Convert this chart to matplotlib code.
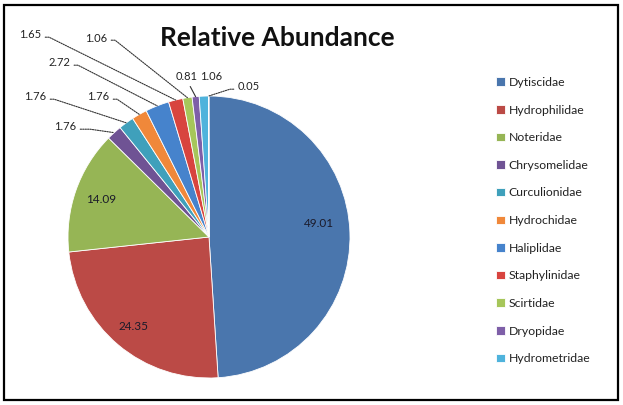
import matplotlib
matplotlib.use("Agg")
import matplotlib.pyplot as plt
from matplotlib.patches import Rectangle
import numpy as np

plt.rcParams['font.family'] = ['Lato', 'DejaVu Sans']

# ---- data ----
families = ["Dytiscidae", "Hydrophilidae", "Noteridae", "Chrysomelidae",
            "Curculionidae", "Hydrochidae", "Haliplidae", "Staphylinidae",
            "Scirtidae", "Dryopidae", "Hydrometridae"]
abundance = [49.01, 24.35, 14.09, 1.76, 1.76, 1.76, 2.72, 1.65, 1.06, 0.81, 1.06, 0.05]
colors = ["#4a76ad", "#bb4a46", "#96b555", "#6f5394", "#3fa0bb", "#f0883a",
          "#4683cc", "#d8443f", "#a6c65a", "#7e5fa8", "#4fb3dc", "#2c4d75"]

W, H = 623, 405
fig = plt.figure(figsize=(W / 100, H / 100), dpi=100)

# pie axes: centre (209, 237) px, radius 141 px
cx, cy, r = 209, 237, 141
ax = fig.add_axes([(cx - r) / W, (H - cy - r) / H, 2 * r / W, 2 * r / H])
wedges, _ = ax.pie(abundance, colors=colors, startangle=90, counterclock=False,
                   wedgeprops=dict(edgecolor="white", linewidth=0.6))
ax.set_xlim(-1, 1)
ax.set_ylim(-1, 1)
ax.set_aspect("equal")
ax.axis("off")

# mid-angles of slices (degrees, matplotlib convention)
vals = np.array(abundance, dtype=float)
frac = vals / vals.sum()
cum = np.concatenate([[0], np.cumsum(frac)])
mids = 90 - 360 * (cum[:-1] + frac / 2)

def edge_point(i, rad=1.0):
    a = np.deg2rad(mids[i])
    return rad * np.cos(a), rad * np.sin(a)

labels = [f"{v:.2f}" for v in abundance]

# inside labels (first three slices)
inner = {0: (0.78, 0.07), 1: (0.83, 0.0), 2: (0.81, 0.0)}
for i, (rad, dy) in inner.items():
    x, y = edge_point(i, rad)
    ax.text(x, y + dy, labels[i], ha="center", va="center",
            fontsize=8.5, color="#1a1a2a")

# outside labels: text position (px from top-left), arm direction, arm length
outside = {
    3: ((65, 127), 0, 14),
    4: ((35, 97), 0, 8),
    5: ((98, 97), 0, 8),
    6: ((59, 63), 0, 8),
    7: ((30, 35), 0, 8),
    8: ((96, 38), 0, 8),
    9: ((187, 77), None, 0),
    10: ((211, 77), None, None),
    11: ((249, 87), 180, 8),
}
for i, ((tx, ty), angA, arm) in outside.items():
    xy = edge_point(i, 1.0)
    if arm is None:
        ax.annotate(labels[i], xy=xy, xytext=(tx, H - ty), textcoords="figure pixels",
                    ha="center", va="center", fontsize=8, color="#222222")
        continue
    if angA is None:
        cs = "arc3,rad=0"
        rel = (0.55, 0.0)
    else:
        cs = f"arc,angleA={angA},angleB=0,armA={arm},armB=0,rad=0"
        rel = (1, 0.3) if angA == 0 else (0, 0.3)
    ax.annotate(labels[i], xy=xy, xytext=(tx, H - ty), textcoords="figure pixels",
                ha="center", va="center", fontsize=8, color="#222222",
                annotation_clip=False,
                arrowprops=dict(arrowstyle="-", color="#333333", lw=0.8,
                                linestyle=(0, (1.2, 1.0)) if angA is not None else "-",
                                connectionstyle=cs, relpos=rel,
                                shrinkA=1, shrinkB=0))

fig.text(277 / W, 1 - 38 / H, "Relative Abundance", ha="center", va="center",
         fontsize=19, fontweight="bold", color="#111111")

fig.legend(wedges[:11], families, loc="upper left",
           bbox_to_anchor=(496 / W, 1 - 77 / H), frameon=False,
           fontsize=8.8, labelspacing=1.36, handlelength=0.7, handleheight=0.7,
           handletextpad=0.35, borderpad=0, borderaxespad=0, labelcolor="#222222")

fig.add_artist(Rectangle((4 / W, 5 / H), 614 / W, 395 / H, transform=fig.transFigure,
                         fill=False, edgecolor="black", linewidth=1.6))

fig.savefig("out.png", dpi=100, facecolor="white")
